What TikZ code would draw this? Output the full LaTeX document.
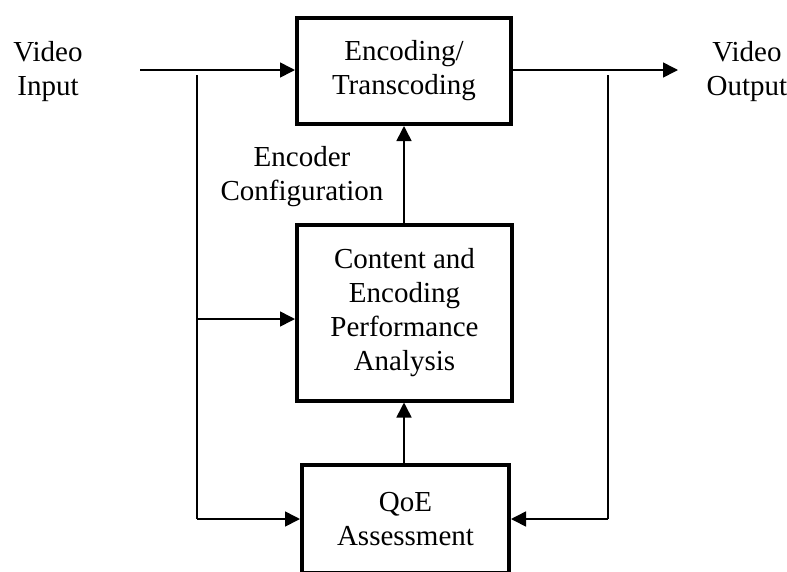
\documentclass[tikz,border=0pt]{standalone}
\usepackage{fontspec}
\setmainfont{Liberation Serif}
\usetikzlibrary{arrows.meta,positioning,calc}
\tikzset{
  blk/.style={draw=black, line width=4pt, fill=white, align=center,
              font=\fontsize{29}{34}\selectfont, inner sep=0pt},
  lbl/.style={align=center, font=\fontsize{29}{34}\selectfont, inner sep=0pt},
  flowarr/.style={-{Triangle[length=15pt, width=15pt]}, line width=1.6pt},
  wire/.style={line width=1.6pt},
}
\begin{document}
\begin{tikzpicture}[x=1pt, y=-1pt]
    \useasboundingbox (0,0) rectangle (787,571);
    \clip (0,0) rectangle (787,571);
    % blocks
    \node[blk, minimum width=214pt, minimum height=106pt] (enc) at (404,71) {Encoding/\\Transcoding};
    \node[blk, minimum width=215pt, minimum height=176pt] (ana) at (404.5,312.5) {Content and\\Encoding\\Performance\\Analysis};
    \node[blk, minimum width=207pt, minimum height=108pt] (qoe) at (405.5,519) {QoE\\Assessment};
    % labels
    \node[lbl] (vin) at (48,72) {Video\\Input};
    \node[lbl] (vout) at (747,72) {Video\\Output};
    \node[lbl] (cfg) at (302,177) {Encoder\\Configuration};
    % free ends and taps
    \coordinate (inbeg) at (140,70);
    \coordinate (outend) at (678,70);
    \coordinate (tapL) at (197,75);
    \coordinate (tapR) at (608,75);
    \coordinate (midL) at (197,319);
    % main path
    \draw[flowarr] (inbeg) -- (inbeg -| enc.west);
    \draw[flowarr] (enc.east |- outend) -- (outend);
    \draw[flowarr] (ana.north -| enc.south) -- (enc.south);
    \draw[flowarr] (enc.south |- qoe.north) -- (enc.south |- ana.south);
    % feeds to analysis and QoE
    \draw[wire] (tapL) -- (tapL |- qoe.west);
    \draw[flowarr] (tapL |- qoe.west) -- (qoe.west);
    \draw[flowarr] (midL) -- (midL -| ana.west);
    \draw[wire] (tapR) -- (tapR |- qoe.east);
    \draw[flowarr] (tapR |- qoe.east) -- (qoe.east);
\end{tikzpicture}
\end{document}
